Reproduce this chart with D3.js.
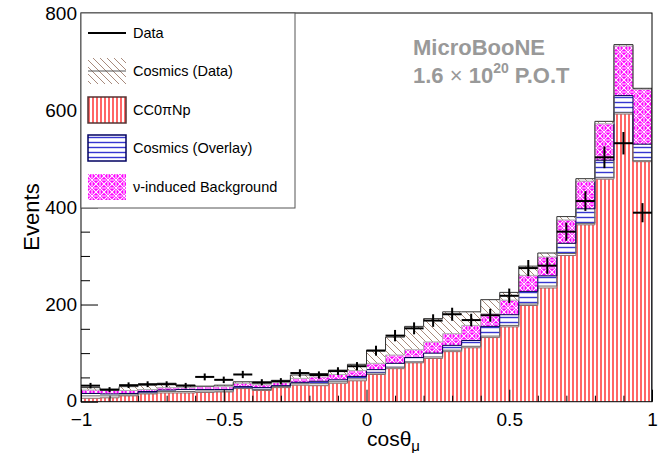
<!DOCTYPE html>
<html>
<head>
<meta charset="utf-8">
<script src="https://cdn.jsdelivr.net/npm/d3@7"></script>
<style>
  html, body { margin: 0; padding: 0; background: #fff; }
  svg { display: block; font-family: "Liberation Sans", Arial, Helvetica, sans-serif; }
</style>
</head>
<body>
<svg id="chart" width="658" height="453"></svg>
<script>
// ---- Data ----
const xDomain = [-1, 1];
const nBins = 30;
const yTicks = [0, 200, 400, 600, 800];
const xTicks = [-1, -0.5, 0, 0.5, 1];

// Stack components per bin (events), bottom to top
const cc0piNp = [7, 8, 12, 16, 18, 18, 19, 20, 27, 23, 29, 34, 33, 38, 43, 56, 68, 80, 89, 103, 111, 132, 154, 198, 234, 301, 364, 458, 592, 494];
const otherMC = [5, 4, 2, 2, 3, 3, 3, 2, 1, 2, 2, 3, 4, 3, 4, 3, 3, 2, 3, 3, 3, 3, 3, 3, 4, 4, 3, 3, 3, 2];
const cosmicsOverlay = [5, 4, 3, 3, 3, 4, 3, 3, 3, 4, 2, 3, 5, 4, 5, 7, 8, 9, 8, 10, 12, 20, 22, 26, 21, 21, 30, 36, 35, 34];
const nuBackground = [7, 7, 6, 4, 5, 4, 6, 6, 7, 6, 6, 8, 9, 11, 12, 13, 17, 16, 23, 24, 31, 26, 30, 33, 39, 48, 57, 75, 102, 113];
const cosmicsData = [5, 1, 8, 9, 9, 5, 1, 3, 3, 3, 5, 7, 7, 9, 13, 27, 37, 48, 48, 45, 28, 29, 16, 19, 8, 7, 5, 5, 3, 2];

const dataCounts = [33, 25, 34, 36, 36, 33, 51, 45, 56, 40, 42, 59, 55, 63, 73, 105, 136, 151, 167, 180, 168, 178, 218, 275, 280, 350, 413, 503, 532, 389];
const dataErrors = [5.7, 5.0, 5.8, 6.0, 6.0, 5.7, 7.1, 6.7, 7.5, 6.3, 6.5, 7.7, 7.4, 7.9, 8.5, 10.2, 11.7, 12.3, 12.9, 13.4, 13.0, 13.3, 14.8, 16.6, 16.7, 18.7, 20.3, 22.4, 23.1, 19.7];

const legendLabels = ["Data", "Cosmics (Data)", "CC0\u03c0Np", "Cosmics (Overlay)", "\u03bd-induced Background"];

// ---- Layout ----
const svg = d3.select("#chart");
const L = 81, R = 652, T = 13, B = 401.7;
const x = d3.scaleLinear().domain(xDomain).range([L, R]);
const y = d3.scaleLinear().domain([0, 800]).range([B, T]);
const binW = (xDomain[1] - xDomain[0]) / nBins;
const binLo = d3.range(nBins).map(i => xDomain[0] + i * binW);

// ---- Patterns ----
const defs = svg.append("defs");
let p = defs.append("pattern").attr("id", "pRed").attr("patternUnits", "userSpaceOnUse").attr("width", 4).attr("height", 4);
p.append("rect").attr("width", 4).attr("height", 4).attr("fill", "#fff");
p.append("line").attr("x1", 1).attr("x2", 1).attr("y1", 0).attr("y2", 4).attr("stroke", "#ff0000").attr("stroke-width", 1.2);

p = defs.append("pattern").attr("id", "pBlue").attr("patternUnits", "userSpaceOnUse").attr("width", 4).attr("height", 5);
p.append("rect").attr("width", 4).attr("height", 5).attr("fill", "#fff");
p.append("line").attr("x1", 0).attr("x2", 4).attr("y1", 2.5).attr("y2", 2.5).attr("stroke", "#3636d0").attr("stroke-width", 1.4);

p = defs.append("pattern").attr("id", "pBrown").attr("patternUnits", "userSpaceOnUse").attr("width", 7).attr("height", 7);
p.append("rect").attr("width", 7).attr("height", 7).attr("fill", "#fff");
p.append("path").attr("d", "M-1,-1 L8,8 M-1,6 L1,8 M6,-1 L8,1").attr("stroke", "#a88a7c").attr("stroke-width", 1);

p = defs.append("pattern").attr("id", "pMag").attr("patternUnits", "userSpaceOnUse").attr("width", 8).attr("height", 8);
p.append("rect").attr("width", 8).attr("height", 8).attr("fill", "#ff00ff");
p.append("path").attr("d", "M0,0 L8,8 M8,0 L0,8 M-4,4 L0,8 M4,-4 L8,0 M0,0 L-4,4 M8,8 L12,4 M4,0 L4,2 M0,4 L2,4 M8,4 L6,4 M4,8 L4,6").attr("stroke", "#fff").attr("stroke-width", 1.1).attr("fill", "none");

defs.append("clipPath").attr("id", "clipPlot").append("rect").attr("x", L).attr("y", T).attr("width", R - L).attr("height", B - T);

// ---- Stacked histogram ----
const layers = [
  { vals: cc0piNp, fill: "url(#pRed)", line: "#8a6a6a" },
  { vals: otherMC, fill: "#fff", line: "#666" },
  { vals: cosmicsOverlay, fill: "url(#pBlue)", line: "#000050" },
  { vals: nuBackground, fill: "url(#pMag)", line: "#b0b0b0" },
  { vals: cosmicsData, fill: "url(#pBrown)", line: "#333" }
];
let cum = new Array(nBins).fill(0);
layers.forEach(l => {
  l.lo = cum.slice();
  l.hi = cum.map((c, i) => c + l.vals[i]);
  cum = l.hi.slice();
});

const gH = svg.append("g").attr("clip-path", "url(#clipPlot)");
layers.forEach(l => {
  gH.append("g").selectAll("rect").data(d3.range(nBins)).join("rect")
    .attr("x", i => x(binLo[i]))
    .attr("width", i => x(binLo[i] + binW) - x(binLo[i]) + 0.3)
    .attr("y", i => y(l.hi[i]))
    .attr("height", i => Math.max(0, y(l.lo[i]) - y(l.hi[i])))
    .attr("fill", l.fill);
});
// step outlines
layers.forEach(l => {
  const pts = [[x(xDomain[0]), y(0)]];
  for (let i = 0; i < nBins; i++) {
    pts.push([x(binLo[i]), y(l.hi[i])]);
    pts.push([x(binLo[i] + binW), y(l.hi[i])]);
  }
  pts.push([x(xDomain[1]), y(0)]);
  gH.append("path").attr("d", d3.line()(pts)).attr("fill", "none").attr("stroke", l.line).attr("stroke-width", 1);
});

// ---- Data points ----
const gD = svg.append("g").attr("stroke", "#000").attr("stroke-width", 2);
dataCounts.forEach((v, i) => {
  gD.append("line").attr("x1", x(binLo[i])).attr("x2", x(binLo[i] + binW)).attr("y1", y(v)).attr("y2", y(v));
  gD.append("line").attr("x1", x(binLo[i] + binW / 2)).attr("x2", x(binLo[i] + binW / 2))
    .attr("y1", y(v - dataErrors[i])).attr("y2", y(v + dataErrors[i]));
});

// ---- Frame and axes ----
svg.append("rect").attr("x", L).attr("y", T).attr("width", R - L).attr("height", B - T)
  .attr("fill", "none").attr("stroke", "#000").attr("stroke-width", 1);

const yAxis = d3.axisLeft(y).tickValues(yTicks).tickSizeInner(-17).tickSizeOuter(0).tickPadding(4).tickFormat(d3.format(""));
const gy = svg.append("g").attr("transform", `translate(${L},0)`).call(yAxis);
const yMinor = d3.axisLeft(y).tickValues(d3.range(0, 801, 50).filter(v => v % 200 !== 0)).tickSizeInner(-9).tickSizeOuter(0).tickFormat("");
svg.append("g").attr("transform", `translate(${L},0)`).call(yMinor);

const xAxis = d3.axisBottom(x).tickValues(xTicks).tickSizeInner(-12).tickSizeOuter(0).tickPadding(11).tickFormat(d3.format(""));
const gx = svg.append("g").attr("transform", `translate(0,${B})`).call(xAxis);
const xMinor = d3.axisBottom(x).tickValues(d3.range(-9, 10).filter(v => v % 5 !== 0).map(v => v / 10)).tickSizeInner(-6).tickSizeOuter(0).tickFormat("");
svg.append("g").attr("transform", `translate(0,${B})`).call(xMinor);

svg.selectAll(".domain").remove();
svg.selectAll(".tick line").attr("stroke", "#000");
gy.selectAll("text").attr("font-size", 19).attr("fill", "#000").attr("font-family", "Liberation Sans, Arial, sans-serif");
gy.selectAll("text").filter(d => d === 0).attr("dy", "0.25em");
gx.selectAll("text").attr("font-size", 19).attr("fill", "#000").attr("font-family", "Liberation Sans, Arial, sans-serif");

// axis titles
const xt = svg.append("text").attr("x", 367).attr("y", 446).attr("font-size", 21).attr("fill", "#000");
xt.append("tspan").text("cos\u03b8");
xt.append("tspan").attr("font-size", 15).attr("dy", 5).text("\u03bc");
svg.append("text").attr("transform", "translate(39,217) rotate(-90)").attr("text-anchor", "middle")
  .attr("font-size", 22).attr("fill", "#000").text("Events");

// ---- Label ----
svg.append("text").attr("x", 413).attr("y", 55).attr("font-size", 22).attr("font-weight", "bold").attr("fill", "#999").text("MicroBooNE");
const pot = svg.append("text").attr("x", 413).attr("y", 83).attr("font-size", 22).attr("font-weight", "bold").attr("fill", "#999");
pot.append("tspan").text("1.6 ");
pot.append("tspan").attr("font-weight", "normal").text("\u00d7");
pot.append("tspan").text(" 10");
pot.append("tspan").attr("font-size", 14).attr("dy", -10).text("20");
pot.append("tspan").attr("dy", 10).text(" P.O.T");

// ---- Legend ----
const lg = svg.append("g");
lg.append("rect").attr("x", L).attr("y", T).attr("width", 295 - L).attr("height", 208 - T)
  .attr("fill", "#fff").attr("stroke", "#555").attr("stroke-width", 1);
const rows = [33, 71, 110, 148, 187];
const sx = 88, sw = 38, sh = 26;
// Data
lg.append("line").attr("x1", sx).attr("x2", sx + sw).attr("y1", rows[0]).attr("y2", rows[0]).attr("stroke", "#000").attr("stroke-width", 2);
// Cosmics (Data)
lg.append("rect").attr("x", sx).attr("y", rows[1] - sh / 2).attr("width", sw).attr("height", sh).attr("fill", "url(#pBrown)");
lg.append("line").attr("x1", sx).attr("x2", sx + sw).attr("y1", rows[1]).attr("y2", rows[1]).attr("stroke", "#555").attr("stroke-width", 1);
// CC0piNp
lg.append("rect").attr("x", sx).attr("y", rows[2] - sh / 2).attr("width", sw).attr("height", sh).attr("fill", "url(#pRed)").attr("stroke", "#553333").attr("stroke-width", 1.5);
// Cosmics (Overlay)
lg.append("rect").attr("x", sx).attr("y", rows[3] - sh / 2).attr("width", sw).attr("height", sh).attr("fill", "url(#pBlue)").attr("stroke", "#000060").attr("stroke-width", 1.5);
// nu bkg
lg.append("rect").attr("x", sx).attr("y", rows[4] - sh / 2).attr("width", sw).attr("height", sh).attr("fill", "url(#pMag)");
legendLabels.forEach((t, i) => {
  lg.append("text").attr("x", 133).attr("y", rows[i] + 5).attr("font-size", 14.5).attr("fill", "#000").text(t);
});
</script>
</body>
</html>
